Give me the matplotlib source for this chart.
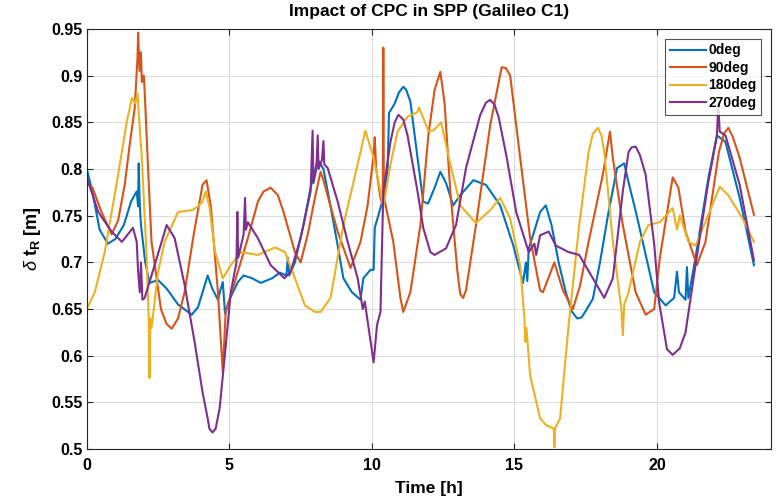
import matplotlib
matplotlib.use("Agg")
import matplotlib.pyplot as plt
from matplotlib import font_manager

names = {f.name for f in font_manager.fontManager.ttflist}
fam = 'Liberation Sans Narrow' if 'Liberation Sans Narrow' in names else 'Liberation Sans'
plt.rcParams['font.family'] = [fam, 'DejaVu Sans']
plt.rcParams['mathtext.fontset'] = 'custom'
plt.rcParams['mathtext.rm'] = fam
plt.rcParams['mathtext.bf'] = fam + ':bold'
plt.rcParams['mathtext.it'] = fam + ':italic'

# ---- data ----
t_0deg = [0, 0.2, 0.45, 0.74, 1.0, 1.3, 1.55, 1.75, 1.80, 1.82, 1.86, 1.9, 2.05, 2.2, 2.5, 2.8, 3.2, 3.68,
          3.9, 4.1, 4.24, 4.4, 4.6, 4.7, 4.77, 4.85, 5.0, 5.3, 5.5, 5.8, 6.1, 6.5, 6.77, 7.0, 7.05, 7.1,
          7.3, 7.6, 7.85, 8.1, 8.3, 8.55, 8.8, 9.0, 9.3, 9.6, 9.7, 9.95, 10.06, 10.1, 10.4, 10.55, 10.6,
          10.8, 10.95, 11.1, 11.2, 11.35, 11.6, 11.8, 11.97, 12.2, 12.4, 12.6, 12.85, 13.1, 13.56, 14.0,
          14.5, 14.96, 15.3, 15.4, 15.45, 15.5, 15.66, 15.9, 16.1, 16.3, 16.55, 16.8, 17.0, 17.2, 17.35,
          17.5, 17.75, 18.0, 18.3, 18.6, 18.85, 19.0, 19.25, 19.5, 19.9, 20.3, 20.6, 20.7, 20.77, 21.0,
          21.05, 21.1, 21.35, 21.8, 22.1, 22.4, 22.9, 23.4]
v_0deg = [0.800, 0.775, 0.735, 0.720, 0.725, 0.740, 0.765, 0.776, 0.760, 0.806, 0.760, 0.740, 0.700,
          0.678, 0.681, 0.672, 0.655, 0.644, 0.652, 0.672, 0.686, 0.672, 0.660, 0.672, 0.679, 0.645,
          0.660, 0.679, 0.686, 0.683, 0.678, 0.683, 0.689, 0.686, 0.705, 0.686, 0.700, 0.740, 0.780,
          0.810, 0.800, 0.760, 0.718, 0.683, 0.668, 0.660, 0.683, 0.692, 0.692, 0.737, 0.769, 0.797,
          0.860, 0.870, 0.882, 0.888, 0.885, 0.872, 0.812, 0.765, 0.763, 0.780, 0.797, 0.785, 0.761,
          0.772, 0.788, 0.783, 0.761, 0.718, 0.678, 0.700, 0.680, 0.715, 0.730, 0.754, 0.761, 0.740,
          0.700, 0.668, 0.648, 0.640, 0.641, 0.648, 0.661, 0.700, 0.754, 0.801, 0.806, 0.786, 0.755,
          0.722, 0.668, 0.654, 0.662, 0.690, 0.668, 0.660, 0.695, 0.662, 0.705, 0.790, 0.836, 0.829,
          0.769, 0.697]

t_90deg = [0, 0.2, 0.5, 0.87, 1.1, 1.33, 1.5, 1.68, 1.78, 1.8, 1.85, 1.9, 1.93, 2.0, 2.03, 2.15, 2.27,
           2.6, 2.8, 2.98, 3.2, 3.43, 3.75, 4.06, 4.2, 4.35, 4.6, 4.77, 4.87, 5.2, 5.65, 6.0, 6.2, 6.45,
           6.7, 6.9, 7.3, 7.5, 7.75, 8.0, 8.2, 8.3, 8.55, 8.8, 9.25, 9.6, 9.85, 10.06, 10.1, 10.15, 10.3,
           10.38, 10.4, 10.42, 10.75, 11.0, 11.1, 11.35, 11.7, 11.98, 12.2, 12.4, 12.55, 12.75, 13.0,
           13.1, 13.2, 13.3, 13.4, 13.65, 14.15, 14.55, 14.7, 14.85, 15.2, 15.55, 15.9, 16.0, 16.4, 16.7,
           17.05, 17.3, 17.6, 18.1, 18.35, 18.45, 18.8, 19.25, 19.6, 19.9, 20.1, 20.55, 20.75, 21.0,
           21.4, 21.7, 22.17, 22.35, 22.5, 22.65, 22.9, 23.4]
v_90deg = [0.785, 0.780, 0.755, 0.730, 0.745, 0.783, 0.825, 0.865, 0.920, 0.946, 0.905, 0.925, 0.893,
           0.900, 0.883, 0.800, 0.722, 0.650, 0.634, 0.629, 0.640, 0.668, 0.730, 0.783, 0.788, 0.760,
           0.668, 0.582, 0.647, 0.680, 0.726, 0.765, 0.776, 0.780, 0.772, 0.754, 0.711, 0.700, 0.730,
           0.769, 0.797, 0.788, 0.760, 0.733, 0.694, 0.722, 0.761, 0.815, 0.834, 0.800, 0.769, 0.760,
           0.930, 0.770, 0.722, 0.662, 0.647, 0.668, 0.740, 0.836, 0.885, 0.904, 0.870, 0.776, 0.690,
           0.666, 0.662, 0.670, 0.690, 0.740, 0.847, 0.909, 0.908, 0.900, 0.812, 0.726, 0.670, 0.668,
           0.700, 0.670, 0.650, 0.675, 0.722, 0.794, 0.840, 0.812, 0.740, 0.668, 0.644, 0.650, 0.705,
           0.791, 0.780, 0.733, 0.697, 0.722, 0.818, 0.838, 0.844, 0.835, 0.812, 0.751]

t_180deg = [0, 0.28, 0.63, 1.1, 1.4, 1.58, 1.7, 1.78, 1.82, 1.93, 2.1, 2.17, 2.2, 2.23, 2.27, 2.35, 2.5,
            2.73, 3.2, 3.7, 3.9, 4.06, 4.17, 4.3, 4.5, 4.77, 5.05, 5.4, 6.0, 6.6, 6.95, 7.3, 7.65, 8.0,
            8.2, 8.55, 9.0, 9.6, 9.77, 10.06, 10.3, 10.4, 10.65, 10.9, 11.25, 11.6, 11.65, 11.98, 12.15,
            12.43, 12.75, 13.1, 13.65, 14.15, 14.5, 14.85, 15.2, 15.35, 15.38, 15.42, 15.55, 15.9, 16.1,
            16.38, 16.4, 16.42, 16.6, 16.9, 17.27, 17.6, 17.75, 17.93, 18.05, 18.15, 18.45, 18.75, 18.8,
            18.85, 19.0, 19.4, 19.7, 20.1, 20.55, 20.7, 20.8, 21.1, 21.35, 21.8, 22.2, 22.5, 23.0, 23.4]
v_180deg = [0.650, 0.668, 0.711, 0.794, 0.850, 0.876, 0.870, 0.881, 0.860, 0.812, 0.705, 0.640, 0.576,
            0.640, 0.630, 0.650, 0.690, 0.722, 0.754, 0.756, 0.760, 0.765, 0.776, 0.760, 0.711, 0.683,
            0.697, 0.711, 0.708, 0.716, 0.711, 0.683, 0.654, 0.647, 0.647, 0.662, 0.740, 0.818, 0.841,
            0.812, 0.776, 0.759, 0.805, 0.840, 0.856, 0.861, 0.866, 0.841, 0.841, 0.850, 0.805, 0.761,
            0.742, 0.756, 0.769, 0.747, 0.697, 0.640, 0.615, 0.630, 0.579, 0.533, 0.526, 0.522, 0.502,
            0.522, 0.533, 0.633, 0.740, 0.818, 0.838, 0.844, 0.836, 0.818, 0.722, 0.650, 0.622, 0.655,
            0.668, 0.722, 0.740, 0.743, 0.758, 0.735, 0.750, 0.722, 0.718, 0.751, 0.781, 0.772, 0.747,
            0.722]

t_270deg = [0, 0.4, 0.87, 1.23, 1.62, 1.75, 1.8, 1.86, 1.9, 1.95, 2.03, 2.38, 2.8, 3.08, 3.43, 3.78,
            4.06, 4.24, 4.3, 4.41, 4.52, 4.66, 4.83, 5.05, 5.25, 5.28, 5.31, 5.5, 5.55, 5.58, 5.65, 6.0,
            6.45, 6.93, 7.15, 7.5, 7.85, 7.92, 7.95, 8.05, 8.1, 8.13, 8.25, 8.3, 8.33, 8.45, 8.8, 9.15,
            9.5, 9.68, 9.75, 10.06, 10.18, 10.3, 10.4, 10.65, 10.8, 10.93, 11.1, 11.25, 11.6, 11.8,
            12.05, 12.2, 12.6, 12.95, 13.3, 13.8, 14.0, 14.15, 14.3, 14.45, 14.73, 15.06, 15.5, 15.7,
            15.76, 15.9, 16.2, 16.45, 16.9, 17.27, 17.75, 18.15, 18.45, 18.8, 19.0, 19.1, 19.25, 19.4,
            19.6, 19.9, 20.07, 20.35, 20.55, 20.8, 21.0, 21.35, 21.8, 22.1, 22.15, 22.2, 22.4, 22.9, 23.4]
v_270deg = [0.791, 0.754, 0.733, 0.722, 0.737, 0.722, 0.690, 0.668, 0.700, 0.660, 0.662, 0.697, 0.740,
            0.726, 0.676, 0.615, 0.561, 0.533, 0.522, 0.518, 0.522, 0.544, 0.597, 0.668, 0.700, 0.754,
            0.705, 0.730, 0.769, 0.735, 0.743, 0.726, 0.697, 0.683, 0.690, 0.726, 0.776, 0.841, 0.785,
            0.800, 0.836, 0.800, 0.810, 0.830, 0.805, 0.801, 0.765, 0.722, 0.683, 0.650, 0.658, 0.593,
            0.633, 0.647, 0.776, 0.829, 0.850, 0.858, 0.853, 0.836, 0.776, 0.737, 0.711, 0.708, 0.715,
            0.740, 0.801, 0.858, 0.871, 0.874, 0.869, 0.855, 0.812, 0.754, 0.711, 0.720, 0.708, 0.729,
            0.733, 0.718, 0.711, 0.708, 0.683, 0.662, 0.683, 0.776, 0.818, 0.823, 0.824, 0.815, 0.794,
            0.720, 0.658, 0.607, 0.601, 0.608, 0.625, 0.697, 0.786, 0.835, 0.869, 0.840, 0.836, 0.783,
            0.702]

series = [("0deg", t_0deg, v_0deg, "#0072BD"),
          ("90deg", t_90deg, v_90deg, "#D95319"),
          ("180deg", t_180deg, v_180deg, "#EDB120"),
          ("270deg", t_270deg, v_270deg, "#7E2F8E")]

xticks = [0, 5, 10, 15, 20]
yticks = [0.5, 0.55, 0.6, 0.65, 0.7, 0.75, 0.8, 0.85, 0.9, 0.95]
yticklabels = ["0.5", "0.55", "0.6", "0.65", "0.7", "0.75", "0.8", "0.85", "0.9", "0.95"]

fig = plt.figure(figsize=(7.82, 4.98), dpi=100)
ax = fig.add_axes([0.111, 0.098, 0.875, 0.844])

for name, t, v, c in series:
    ax.plot(t, v, color=c, lw=1.5, label=name)

ax.set_xlim(0, 24)
ax.set_ylim(0.5, 0.95)
ax.set_xticks(xticks)
ax.set_yticks(yticks)
ax.set_yticklabels(yticklabels)
ax.grid(True, color="#DCDCDC", lw=0.8)
ax.set_axisbelow(True)
for s in ax.spines.values():
    s.set_color("#262626")
    s.set_linewidth(0.8)
ax.tick_params(direction="in", top=True, right=True, length=4, width=0.8,
               labelsize=11.5, colors="#262626")
ax.tick_params(axis="x", pad=6)
ax.tick_params(axis="y", pad=3)
for lab in ax.get_xticklabels() + ax.get_yticklabels():
    lab.set_fontweight("bold")
    lab.set_color("black")

ax.set_title("Impact of CPC in SPP (Galileo C1)", fontsize=12.5, fontweight="bold", pad=9)
ax.set_xlabel("Time [h]", fontsize=12.5, fontweight="bold", labelpad=6)
ax.set_ylabel(r"$\delta$ $\mathbf{t_R}$ [m]", fontsize=13, fontweight="bold", labelpad=6)

leg = ax.legend(loc="upper right", prop={"weight": "bold", "size": 10}, frameon=True,
                fancybox=False, edgecolor="#262626", handlelength=2.6, handletextpad=0.15,
                borderpad=0.35, labelspacing=0.25, borderaxespad=0.7)
leg.get_frame().set_linewidth(0.8)

fig.savefig("out.png", dpi=100)
